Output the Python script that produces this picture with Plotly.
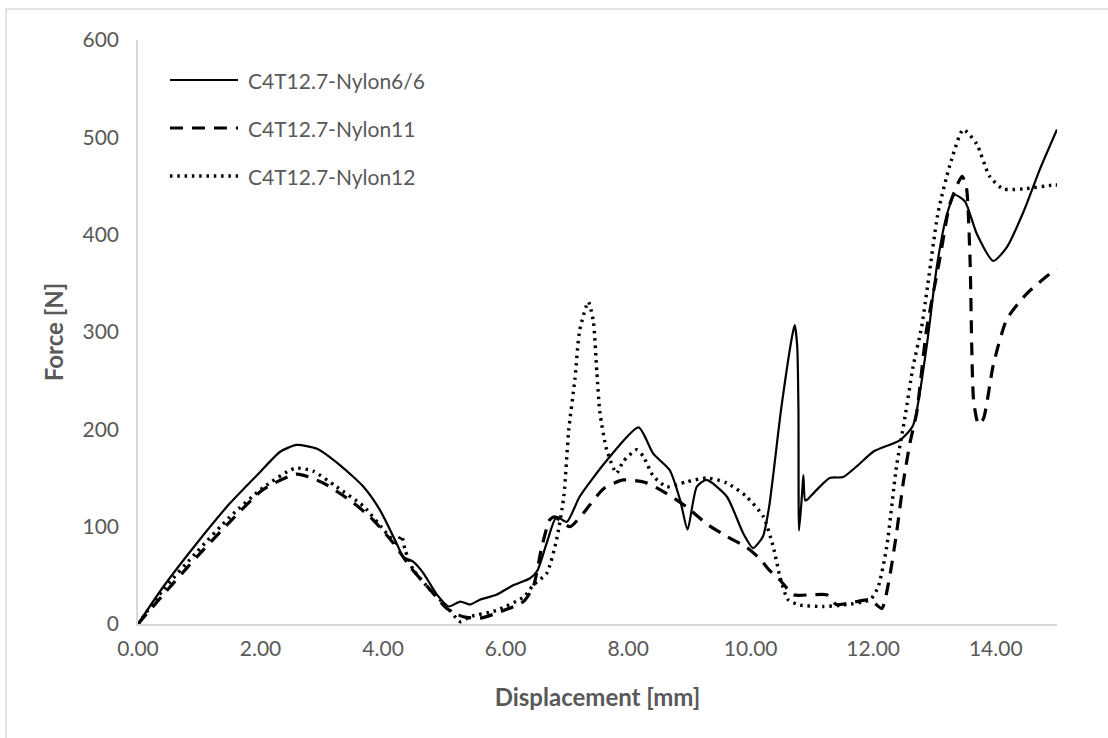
import plotly.graph_objects as go

# ---------------- data ----------------
nylon66_x = [0, 0.41, 0.96, 1.5, 1.99, 2.32, 2.59, 2.92, 3.3, 3.68, 3.95, 4.22, 4.33, 4.49, 4.66,
             4.87, 5.07, 5.26, 5.42, 5.58, 5.85, 6.13, 6.4, 6.52, 6.67, 6.83, 7.0, 7.21, 7.65, 8.17,
             8.41, 8.68, 8.85, 8.97, 9.12, 9.28, 9.61, 9.88, 10.04, 10.2, 10.3, 10.5, 10.69, 10.72,
             10.76, 10.78, 10.79, 10.84, 10.86, 10.89, 10.93, 11.05, 11.29, 11.51, 11.75, 12.0, 12.44,
             12.65, 12.87, 13.04, 13.2, 13.33, 13.5, 13.69, 13.96, 14.18, 14.45, 14.72, 15.0]
nylon66_y = [0, 38, 83, 124, 156, 177, 184, 180, 163, 141, 117, 83, 69, 64, 52,
             31, 18, 23, 20, 25, 30, 40, 47, 55, 83, 110, 105, 131, 168, 202,
             175, 158, 127, 97, 141, 148, 131, 93, 78, 90, 120, 222, 300, 307,
             285, 220, 96, 135, 153, 127, 128, 136, 150, 151, 163, 177, 189,
             204, 284, 368, 420, 441, 434, 401, 373, 387, 423, 467, 508]

nylon11_x = [0, 0.41, 0.96, 1.5, 2.04, 2.59, 3.02, 3.46, 3.79, 4.17, 4.44, 4.77, 5.04, 5.31, 5.58,
             5.85, 6.29, 6.45, 6.59, 6.72, 6.8, 7.05, 7.27, 7.6, 7.92, 8.3, 8.63, 8.96, 9.28, 9.61,
             9.93, 10.15, 10.31, 10.48, 10.7, 10.97, 11.24, 11.4, 11.73, 11.95, 12.14, 12.25, 12.38,
             12.49, 12.6, 12.71, 12.87, 13.09, 13.25, 13.45, 13.52, 13.58, 13.64, 13.72, 13.8, 13.96,
             14.18, 14.5, 14.91, 15.0]
nylon11_y = [0, 30, 69, 105, 138, 154, 145, 127, 110, 83, 59, 35, 16, 7.5, 6,
             11, 23, 38, 79, 107, 110, 100, 114, 139, 148, 145, 134, 120, 103, 90,
             79, 67, 55, 45, 30, 30, 30, 20, 23, 25, 16, 42, 93,
             145, 186, 217, 302, 376, 431, 460, 449, 376, 229, 205, 211, 266,
             313, 339, 361, 364]

nylon12_x = [0, 0.41, 0.96, 1.5, 2.04, 2.56, 2.86, 3.24, 3.68, 4.06, 4.22, 4.3, 4.36, 4.49, 4.77,
             5.04, 5.26, 5.42, 5.85, 6.3, 6.45, 6.67, 6.83, 6.95, 7.03, 7.13, 7.21, 7.35, 7.43,
             7.49, 7.54, 7.65, 7.81, 7.92, 8.14, 8.25, 8.41, 8.63, 8.95, 9.28, 9.61, 9.93, 10.21,
             10.37, 10.48, 10.61, 10.8, 11.18, 11.51, 11.95, 12.08, 12.22, 12.38, 12.52, 12.65,
             12.79, 12.87, 13.06, 13.25, 13.47, 13.69, 13.9, 14.12, 14.45, 14.94, 15.0]
nylon12_y = [0, 35, 74, 110, 140, 160, 157, 141, 121, 93, 83, 91, 76, 56, 35,
             18, 2.4, 7.5, 14, 28, 40, 52, 86, 131, 199, 251, 302, 331, 312,
             258, 217, 179, 155, 167, 179, 172, 152, 141, 146, 150, 145, 131, 110,
             79, 48, 25, 19.5, 18, 19.5, 25, 38, 79, 162, 213, 264,
             305, 339, 423, 471, 508, 493, 460, 447, 447, 451, 451]

series_names = ["C4T12.7-Nylon6/6", "C4T12.7-Nylon11", "C4T12.7-Nylon12"]
x_ticks = [0, 2, 4, 6, 8, 10, 12, 14]
y_ticks = [0, 100, 200, 300, 400, 500, 600]

# ---------------- figure ----------------
FONT = "Lato"
GREY_TXT = "#595959"
GREY_LINE = "#d9d9d9"

styles = [
    dict(color="black", width=2.2, dash="solid"),
    dict(color="black", width=3.2, dash="13px,9px"),
    dict(color="black", width=3.4, dash="2.5px,4.8px"),
]
xs = [nylon66_x, nylon11_x, nylon12_x]
ys = [nylon66_y, nylon11_y, nylon12_y]

fig = go.Figure()
for name, x, y, st in zip(series_names, xs, ys, styles):
    fig.add_trace(go.Scatter(x=x, y=y, mode="lines", name=name,
                             line=dict(shape="spline", smoothing=0.6, **st),
                             showlegend=False))

fig.update_layout(
    width=1108, height=738,
    margin=dict(l=138, r=51, t=40, b=114),
    paper_bgcolor="white", plot_bgcolor="white",
    font=dict(family=FONT, color=GREY_TXT, size=21),
    xaxis=dict(range=[0, 15], tickvals=x_ticks, tickformat=".2f",
               showgrid=False, zeroline=False, showline=True, linecolor=GREY_LINE, linewidth=1.5,
               ticks="", ticklabelstandoff=5,
               tickfont=dict(family=FONT, size=21, color=GREY_TXT),
               title=dict(text="<b>Displacement [mm]</b>", standoff=30,
                          font=dict(family=FONT, size=24, color=GREY_TXT))),
    yaxis=dict(range=[0, 600], tickvals=y_ticks,
               showgrid=False, zeroline=False, showline=True, linecolor=GREY_LINE, linewidth=1.5,
               ticks="", ticklabelstandoff=13,
               tickfont=dict(family=FONT, size=21, color=GREY_TXT),
               title=dict(text="<b>Force [N]</b>", standoff=12,
                          font=dict(family=FONT, size=24, color=GREY_TXT))),
)

# chart-area border
fig.add_shape(type="rect", xref="paper", yref="paper",
              x0=-0.1436, x1=1.2, y0=-0.3, y1=1.0531,
              line=dict(color=GREY_LINE, width=1.5), layer="below")

# manual legend (long line samples as in the reference)
leg_y = [0.9315, 0.8493, 0.7671]
for name, st, yy in zip(series_names, styles, leg_y):
    fig.add_shape(type="line", xref="paper", yref="paper",
                  x0=0.0348, x1=0.1088, y0=yy, y1=yy,
                  line=dict(color="black", width=st["width"], dash=st["dash"]))
    fig.add_annotation(xref="paper", yref="paper", x=0.1175, y=yy,
                       xanchor="left", yanchor="middle", showarrow=False,
                       text=name, font=dict(family=FONT, size=21, color=GREY_TXT))

fig.write_html("out.html")
